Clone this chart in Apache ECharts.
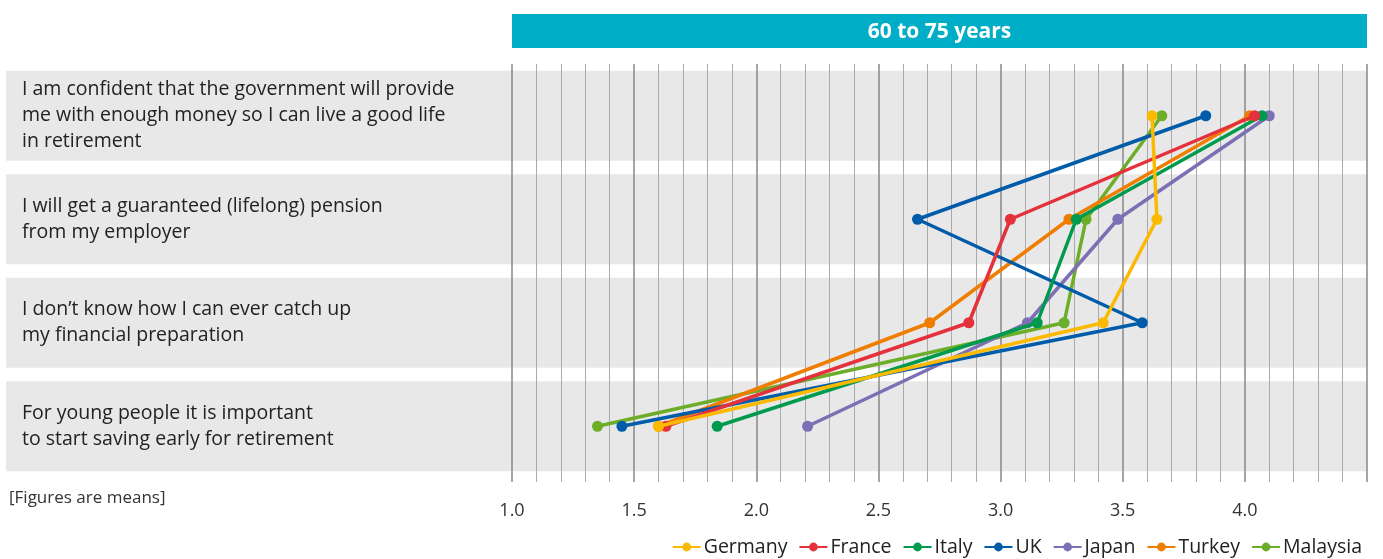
<!DOCTYPE html>
<html><head><meta charset="utf-8">
<script src="https://cdn.jsdelivr.net/npm/echarts@6/dist/echarts.min.js"></script>
<style>html,body{margin:0;padding:0;background:#fff}#c{width:1383px;height:559px}</style>
</head><body><div id="c"></div>
<script>
const categories = [
  "I am confident that the government will provide\nme with enough money so I can live a good life\nin retirement",
  "I will get a guaranteed (lifelong) pension\nfrom my employer",
  "I don’t know how I can ever catch up\nmy financial preparation",
  "For young people it is important\nto start saving early for retirement"
];
const germany  = [3.62, 3.64, 3.42, 1.60];
const france   = [4.04, 3.04, 2.87, 1.63];
const italy    = [4.07, 3.31, 3.15, 1.84];
const uk       = [3.84, 2.66, 3.58, 1.45];
const japan    = [4.10, 3.48, 3.11, 2.21];
const turkey   = [4.02, 3.28, 2.71, 1.60];
const malaysia = [3.66, 3.35, 3.26, 1.35];
const bandValues = [1, 1, 1, 1];
const panelTitle = "60 to 75 years";
const note = "[Figures are means]";

const FONT = "'Open Sans', 'Noto Sans', sans-serif";
const seriesDefs = [
  ["Germany", germany, "#fbb900"],
  ["France", france, "#e4313c"],
  ["Italy", italy, "#009a4e"],
  ["UK", uk, "#005ca9"],
  ["Japan", japan, "#7d6fb3"],
  ["Turkey", turkey, "#ef7d00"],
  ["Malaysia", malaysia, "#6cae2a"]
];

const chart = echarts.init(document.getElementById('c'), null, {renderer: 'canvas'});
const lineSeries = seriesDefs.map(([name, data, color], i) => ({
  name, type: 'line', data, xAxisIndex: 0, yAxisIndex: 0,
  symbol: 'circle', symbolSize: 11, z: 10 + (seriesDefs.length - i),
  lineStyle: {width: 3.5, color}, itemStyle: {color},
  emphasis: {disabled: true}, animation: false
}));

chart.setOption({
  animation: false,
  title: [
    {text: note, left: 4, top: 485, textStyle: {fontFamily: FONT, fontSize: 17, fontWeight: 'normal', color: '#333'}}
  ],
  graphic: [
    {type: 'group', left: 512, top: 14, children: [
      {type: 'rect', shape: {x: 0, y: 0, width: 855, height: 34}, style: {fill: '#00adc7'}},
      {type: 'text', x: 427.5, y: 18, style: {text: panelTitle, fill: '#fff', font: "bold 21px " + FONT, textAlign: 'center', textVerticalAlign: 'middle'}}
    ]}
  ],
  legend: {
    right: 16, bottom: -3, itemGap: 11, itemWidth: 28, itemHeight: 11,
    textStyle: {fontFamily: FONT, fontSize: 19.5, color: '#222', padding: [0, 0, 0, -2]},
    data: seriesDefs.map(d => d[0])
  },
  grid: [
    {left: 512, right: 16, top: 64, bottom: 81},
    {left: 6, right: 16, top: 64, bottom: 81}
  ],
  xAxis: [
    {type: 'value', gridIndex: 0, min: 1.0, max: 4.5, interval: 0.5,
     axisLine: {show: false},
     axisTick: {show: true, inside: false, length: 4, lineStyle: {color: '#888', width: 1.5}},
     minorTick: {show: true, splitNumber: 5, length: 4, lineStyle: {color: '#aaa', width: 1}},
     splitLine: {show: true, lineStyle: {color: '#888', width: 1.5}},
     minorSplitLine: {show: true, lineStyle: {color: '#aaa', width: 1}},
     axisLabel: {margin: 24, fontFamily: FONT, fontSize: 18, color: '#333',
       formatter: v => (v >= 4.5 ? '' : v.toFixed(1))}},
    {type: 'value', gridIndex: 1, min: 0, max: 1, show: false}
  ],
  yAxis: [
    {type: 'category', gridIndex: 0, data: categories, inverse: true,
     axisLine: {show: false}, axisTick: {show: false}, splitLine: {show: false},
     axisLabel: {align: 'left', margin: 490, fontFamily: FONT, fontSize: 19.5, lineHeight: 26, color: '#222', padding: [10, 0, 0, 0]}},
    {type: 'category', gridIndex: 1, data: categories, inverse: true, show: false}
  ],
  series: [
    {type: 'bar', xAxisIndex: 1, yAxisIndex: 1, data: bandValues, barWidth: 90, silent: true,
     itemStyle: {color: '#e8e8e8'}, z: -5, legendHoverLink: false, tooltip: {show: false}}
  ].concat(lineSeries)
});
</script></body></html>
